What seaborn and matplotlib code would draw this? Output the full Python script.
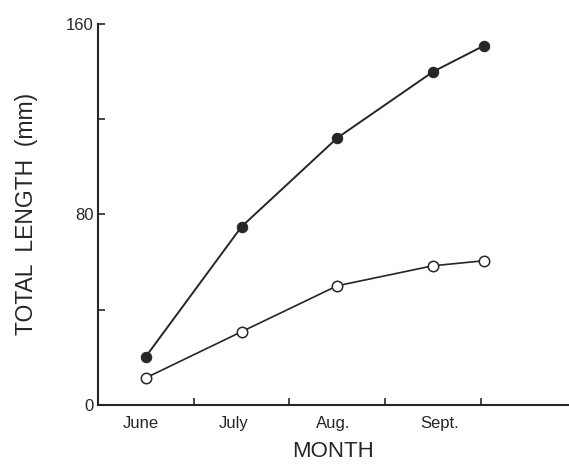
import pandas as pd
import numpy as np
import matplotlib
matplotlib.use('Agg')
import matplotlib.pyplot as plt
import seaborn as sns

# sampling dates as position along the month axis (0 = start of June)
sample_pos = [0.5, 1.5, 2.5, 3.5, 4.03]
filled_len = [20.2, 74.8, 112.1, 139.9, 150.8]
open_len = [11.3, 30.7, 50.0, 58.4, 60.5]
month_labels = ['June', 'July', 'Aug.', 'Sept.']
month_boundaries = [1, 2, 3, 4]

df = pd.DataFrame({
    'pos': sample_pos * 2,
    'length': filled_len + open_len,
    'group': ['filled'] * 5 + ['open'] * 5,
})

sns.set_style('ticks')
plt.rcParams['font.family'] = ['Liberation Sans', 'DejaVu Sans']

fig = plt.figure(figsize=(5.69, 4.68), dpi=100)
ax = fig.add_axes([0.172, 0.135, 0.828, 0.814])

ink = '#262626'
sns.lineplot(data=df[df.group == 'filled'], x='pos', y='length', ax=ax,
             color=ink, lw=1.4, marker='o', markersize=7.5,
             markerfacecolor=ink, markeredgecolor=ink)
sns.lineplot(data=df[df.group == 'open'], x='pos', y='length', ax=ax,
             color=ink, lw=1.2, marker='o', markersize=7.5,
             markerfacecolor='white', markeredgecolor=ink, markeredgewidth=1.1)

ax.set_xlim(0, 4.92)
ax.set_ylim(0, 160)
ax.set_xticks(month_boundaries)
ax.set_xticklabels([])
ax.set_xticks([0.45, 1.42, 2.46, 3.57], minor=True)
ax.set_xticklabels(month_labels, minor=True, fontsize=12, color=ink)
ax.tick_params(axis='x', which='major', direction='in', length=5, width=1.2, color=ink)
ax.tick_params(axis='x', which='minor', length=0, pad=8)

ax.set_yticks([0, 80, 160])
ax.set_yticklabels(['0', '80', '160'], fontsize=12, color=ink)
ax.set_yticks([40, 120], minor=True)
ax.tick_params(axis='y', which='both', direction='in', length=5, width=1.2, color=ink, pad=3)

ax.set_xlabel('MONTH', fontsize=16, color=ink, labelpad=7)
ax.set_ylabel('TOTAL  LENGTH  (mm)', fontsize=16.5, color=ink, labelpad=20)

sns.despine(ax=ax)
for s in ['left', 'bottom']:
    ax.spines[s].set_linewidth(1.5)
    ax.spines[s].set_color(ink)

fig.savefig('out.png', dpi=100)
